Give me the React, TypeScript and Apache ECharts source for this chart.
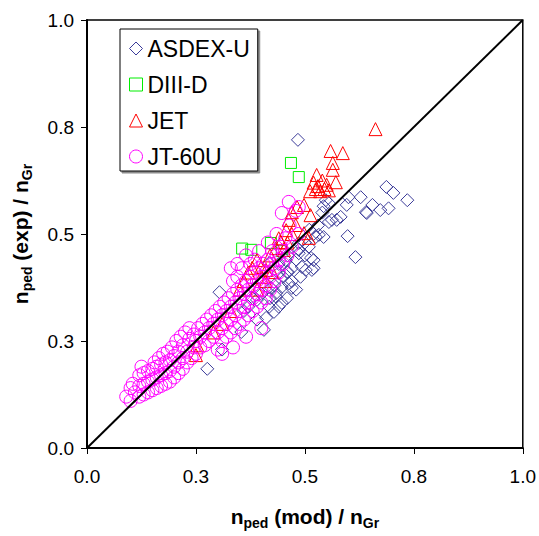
import React, { useEffect, useRef } from "react";
import * as echarts from "echarts";

// ---- data (x = n_ped(mod)/n_Gr, y = n_ped(exp)/n_Gr) ----
const tickValues = [0, 0.25, 0.5, 0.75, 1.0];
const tickLabels = ["0.0", "0.3", "0.5", "0.8", "1.0"];

const seriesNames = ["ASDEX-U", "DIII-D", "JET", "JT-60U"];

const ASDEX_U: [number, number][] = [
  [0.484, 0.72], [0.276, 0.185], [0.31, 0.23], [0.304, 0.364], [0.354, 0.271],
  [0.406, 0.276], [0.39, 0.3], [0.411, 0.304], [0.418, 0.33], [0.429, 0.318],
  [0.434, 0.353], [0.447, 0.339], [0.459, 0.35], [0.434, 0.362], [0.39, 0.346],
  [0.447, 0.376], [0.47, 0.374], [0.422, 0.374], [0.463, 0.385], [0.44, 0.409],
  [0.459, 0.411], [0.502, 0.416], [0.493, 0.423], [0.516, 0.416], [0.52, 0.439],
  [0.418, 0.432], [0.456, 0.439], [0.486, 0.455], [0.486, 0.463], [0.509, 0.47],
  [0.486, 0.479], [0.532, 0.498], [0.555, 0.528], [0.573, 0.533], [0.548, 0.579],
  [0.555, 0.572], [0.543, 0.493], [0.525, 0.493], [0.514, 0.444], [0.52, 0.42],
  [0.461, 0.411], [0.598, 0.495], [0.616, 0.446], [0.642, 0.549], [0.655, 0.568],
  [0.673, 0.556], [0.692, 0.56], [0.64, 0.551], [0.628, 0.586], [0.6, 0.586],
  [0.596, 0.568], [0.582, 0.54], [0.562, 0.533], [0.687, 0.61], [0.703, 0.596],
  [0.735, 0.579], [0.543, 0.565], [0.38, 0.35], [0.4, 0.36], [0.43, 0.38],
  [0.45, 0.4], [0.47, 0.42], [0.48, 0.44], [0.44, 0.43], [0.46, 0.45],
  [0.5, 0.45], [0.49, 0.4], [0.47, 0.39], [0.42, 0.35], [0.37, 0.33],
  [0.36, 0.32], [0.44, 0.33], [0.48, 0.37], [0.5, 0.48], [0.52, 0.5],
  [0.51, 0.51], [0.53, 0.52], [0.54, 0.55],
];

const DIII_D: [number, number][] = [
  [0.468, 0.666], [0.486, 0.633], [0.422, 0.479], [0.377, 0.463],
  [0.447, 0.46], [0.356, 0.466],
];

const JET: [number, number][] = [
  [0.662, 0.745], [0.559, 0.694], [0.587, 0.689], [0.564, 0.666], [0.564, 0.65],
  [0.571, 0.621], [0.527, 0.638], [0.52, 0.62], [0.53, 0.612], [0.54, 0.625],
  [0.545, 0.605], [0.535, 0.6], [0.55, 0.615], [0.555, 0.602], [0.525, 0.605],
  [0.512, 0.6], [0.498, 0.568], [0.513, 0.544], [0.47, 0.551], [0.482, 0.563],
  [0.463, 0.533], [0.479, 0.521], [0.498, 0.502], [0.509, 0.491], [0.457, 0.509],
  [0.445, 0.481], [0.434, 0.467], [0.452, 0.463], [0.39, 0.439], [0.4, 0.423],
  [0.411, 0.416], [0.425, 0.411], [0.379, 0.421], [0.4, 0.4], [0.42, 0.45],
  [0.44, 0.49], [0.46, 0.48], [0.47, 0.5], [0.37, 0.41], [0.36, 0.39],
  [0.35, 0.37], [0.25, 0.217], [0.253, 0.24], [0.29, 0.27], [0.31, 0.29],
  [0.33, 0.32], [0.39, 0.37], [0.41, 0.39],
];

const JT_60U: [number, number][] = [
  [0.09, 0.12], [0.1, 0.11], [0.1, 0.14], [0.11, 0.13], [0.105, 0.15],
  [0.12, 0.12], [0.12, 0.145], [0.12, 0.17], [0.13, 0.125], [0.13, 0.15],
  [0.13, 0.175], [0.14, 0.13], [0.14, 0.155], [0.14, 0.18], [0.15, 0.135],
  [0.15, 0.16], [0.15, 0.185], [0.155, 0.2], [0.16, 0.14], [0.16, 0.165],
  [0.16, 0.19], [0.165, 0.21], [0.17, 0.145], [0.17, 0.17], [0.17, 0.195],
  [0.175, 0.22], [0.18, 0.15], [0.18, 0.175], [0.18, 0.2], [0.185, 0.225],
  [0.19, 0.155], [0.19, 0.18], [0.19, 0.205], [0.195, 0.235], [0.2, 0.165],
  [0.2, 0.19], [0.2, 0.215], [0.205, 0.25], [0.21, 0.175], [0.21, 0.2],
  [0.21, 0.225], [0.215, 0.26], [0.22, 0.185], [0.22, 0.21], [0.22, 0.24],
  [0.225, 0.27], [0.23, 0.2], [0.23, 0.225], [0.235, 0.255], [0.235, 0.28],
  [0.24, 0.21], [0.245, 0.235], [0.245, 0.265], [0.125, 0.19],
  [0.25, 0.22], [0.25, 0.25], [0.255, 0.28], [0.26, 0.235], [0.26, 0.26],
  [0.265, 0.29], [0.27, 0.24], [0.27, 0.27], [0.275, 0.3], [0.28, 0.25],
  [0.28, 0.28], [0.285, 0.31], [0.29, 0.26], [0.29, 0.29], [0.295, 0.32],
  [0.3, 0.23], [0.3, 0.27], [0.3, 0.3], [0.305, 0.33], [0.31, 0.25],
  [0.31, 0.28], [0.31, 0.31], [0.315, 0.34], [0.32, 0.26], [0.32, 0.29],
  [0.32, 0.32], [0.325, 0.35], [0.33, 0.27], [0.33, 0.3], [0.33, 0.33],
  [0.335, 0.36], [0.335, 0.39], [0.33, 0.42], [0.345, 0.43], [0.31, 0.22],
  [0.335, 0.235], [0.365, 0.26], [0.4, 0.28],
  [0.34, 0.28], [0.34, 0.31], [0.34, 0.34], [0.345, 0.37], [0.345, 0.4],
  [0.35, 0.29], [0.35, 0.32], [0.35, 0.35], [0.355, 0.38], [0.355, 0.42],
  [0.36, 0.3], [0.36, 0.33], [0.36, 0.36], [0.365, 0.39], [0.365, 0.45],
  [0.37, 0.31], [0.37, 0.34], [0.37, 0.37], [0.375, 0.4], [0.375, 0.43],
  [0.38, 0.32], [0.38, 0.35], [0.38, 0.38], [0.385, 0.41], [0.385, 0.44],
  [0.39, 0.33], [0.39, 0.36], [0.39, 0.39], [0.395, 0.42], [0.395, 0.46],
  [0.4, 0.34], [0.4, 0.37], [0.4, 0.4], [0.405, 0.43], [0.41, 0.35],
  [0.41, 0.38], [0.41, 0.41], [0.415, 0.44], [0.415, 0.48], [0.42, 0.37],
  [0.42, 0.4], [0.425, 0.43], [0.425, 0.46], [0.43, 0.39], [0.43, 0.42],
  [0.435, 0.45], [0.435, 0.5], [0.44, 0.41], [0.44, 0.44], [0.445, 0.47],
  [0.45, 0.43], [0.45, 0.46], [0.455, 0.49], [0.46, 0.45], [0.465, 0.52],
  [0.47, 0.47], [0.463, 0.575], [0.486, 0.563], [0.447, 0.549], [0.479, 0.554],
  [0.485, 0.5],
];

const diagonal: [number, number][] = [[0, 0], [1, 1]];

const colors = ["#3b3b99", "#00ee00", "#ff0000", "#ff00ff"];
const symbols = ["diamond", "rect", "triangle", "circle"];
const sizes = [13, 11, 13, 13];

const FONT = "'Liberation Sans', Arial, Helvetica, sans-serif";

export default function App() {
  const ref = useRef<HTMLDivElement>(null);

  useEffect(() => {
    if (!ref.current) return;
    const chart = echarts.init(ref.current, undefined, { renderer: "svg" });
    const datasets = [ASDEX_U, DIII_D, JET, JT_60U];

    const fmt = (v: number) => {
      const i = tickValues.findIndex((t) => Math.abs(t - v) < 1e-9);
      return i >= 0 ? tickLabels[i] : "";
    };

    const nameRich = {
      n: { fontSize: 21, fontWeight: "bold", fontFamily: FONT, color: "#000", lineHeight: 28, verticalAlign: "middle" },
      s: { fontSize: 14, fontWeight: "bold", fontFamily: FONT, color: "#000", lineHeight: 28, verticalAlign: "bottom" },
    };

    const axisCommon = {
      type: "value",
      min: 0,
      max: 1,
      interval: 0.25,
      axisLine: { show: true, onZero: false, lineStyle: { color: "#000", width: 2 } },
      axisTick: { show: true, inside: false, length: 6, lineStyle: { color: "#000", width: 1 } },
      splitLine: { show: false },
      nameLocation: "middle",
    };

    chart.setOption({
      animation: false,
      backgroundColor: "#fff",
      grid: {
        left: 87,
        top: 20,
        width: 437,
        height: 428,
        show: true,
        borderColor: "#000",
        borderWidth: 1.5,
        backgroundColor: "transparent",
      },
      xAxis: {
        ...axisCommon,
        axisLabel: { formatter: fmt, color: "#000", fontFamily: FONT, fontSize: 19, margin: 19 },
        name: "{n|n}{s|ped}{n| (mod) / n}{s|Gr}",
        nameGap: 54,
        nameTextStyle: { rich: nameRich },
      },
      yAxis: {
        ...axisCommon,
        axisLabel: { formatter: fmt, color: "#000", fontFamily: FONT, fontSize: 19, margin: 13 },
        name: "{n|n}{s|ped}{n| (exp) / n}{s|Gr}",
        nameGap: 53,
        nameTextStyle: { rich: nameRich },
      },
      legend: {
        orient: "vertical",
        left: 120,
        top: 29,
        padding: [8, 8, 3, 9],
        itemGap: 13,
        itemWidth: 13,
        itemHeight: 13,
        borderColor: "#000",
        borderWidth: 1,
        backgroundColor: "#fff",
        shadowColor: "rgba(0,0,0,0.45)",
        shadowOffsetX: 2,
        shadowOffsetY: 2,
        shadowBlur: 0,
        selectedMode: false,
        textStyle: { fontSize: 23, color: "#000", fontFamily: FONT, lineHeight: 23 },
        data: seriesNames.map((nm, i) => ({
          name: nm,
          icon: symbols[i],
          itemStyle: { color: "transparent", borderColor: colors[i], borderWidth: 1 },
        })),
      },
      series: [
        ...datasets.map((d, i) => ({
          name: seriesNames[i],
          type: "scatter",
          data: d,
          symbol: symbols[i],
          symbolSize: sizes[i],
          itemStyle: { color: "transparent", borderColor: colors[i], borderWidth: 1, opacity: 1 },
          emphasis: { disabled: true },
          z: 2,
        })),
        {
          name: "diagonal",
          type: "line",
          data: diagonal,
          symbol: "none",
          lineStyle: { color: "#000", width: 2 },
          silent: true,
          z: 3,
        },
      ],
    });

    return () => chart.dispose();
  }, []);

  return (
    <div
      ref={ref}
      style={{ position: "absolute", left: 0, top: 0, width: 539, height: 536, background: "#fff" }}
    />
  );
}
